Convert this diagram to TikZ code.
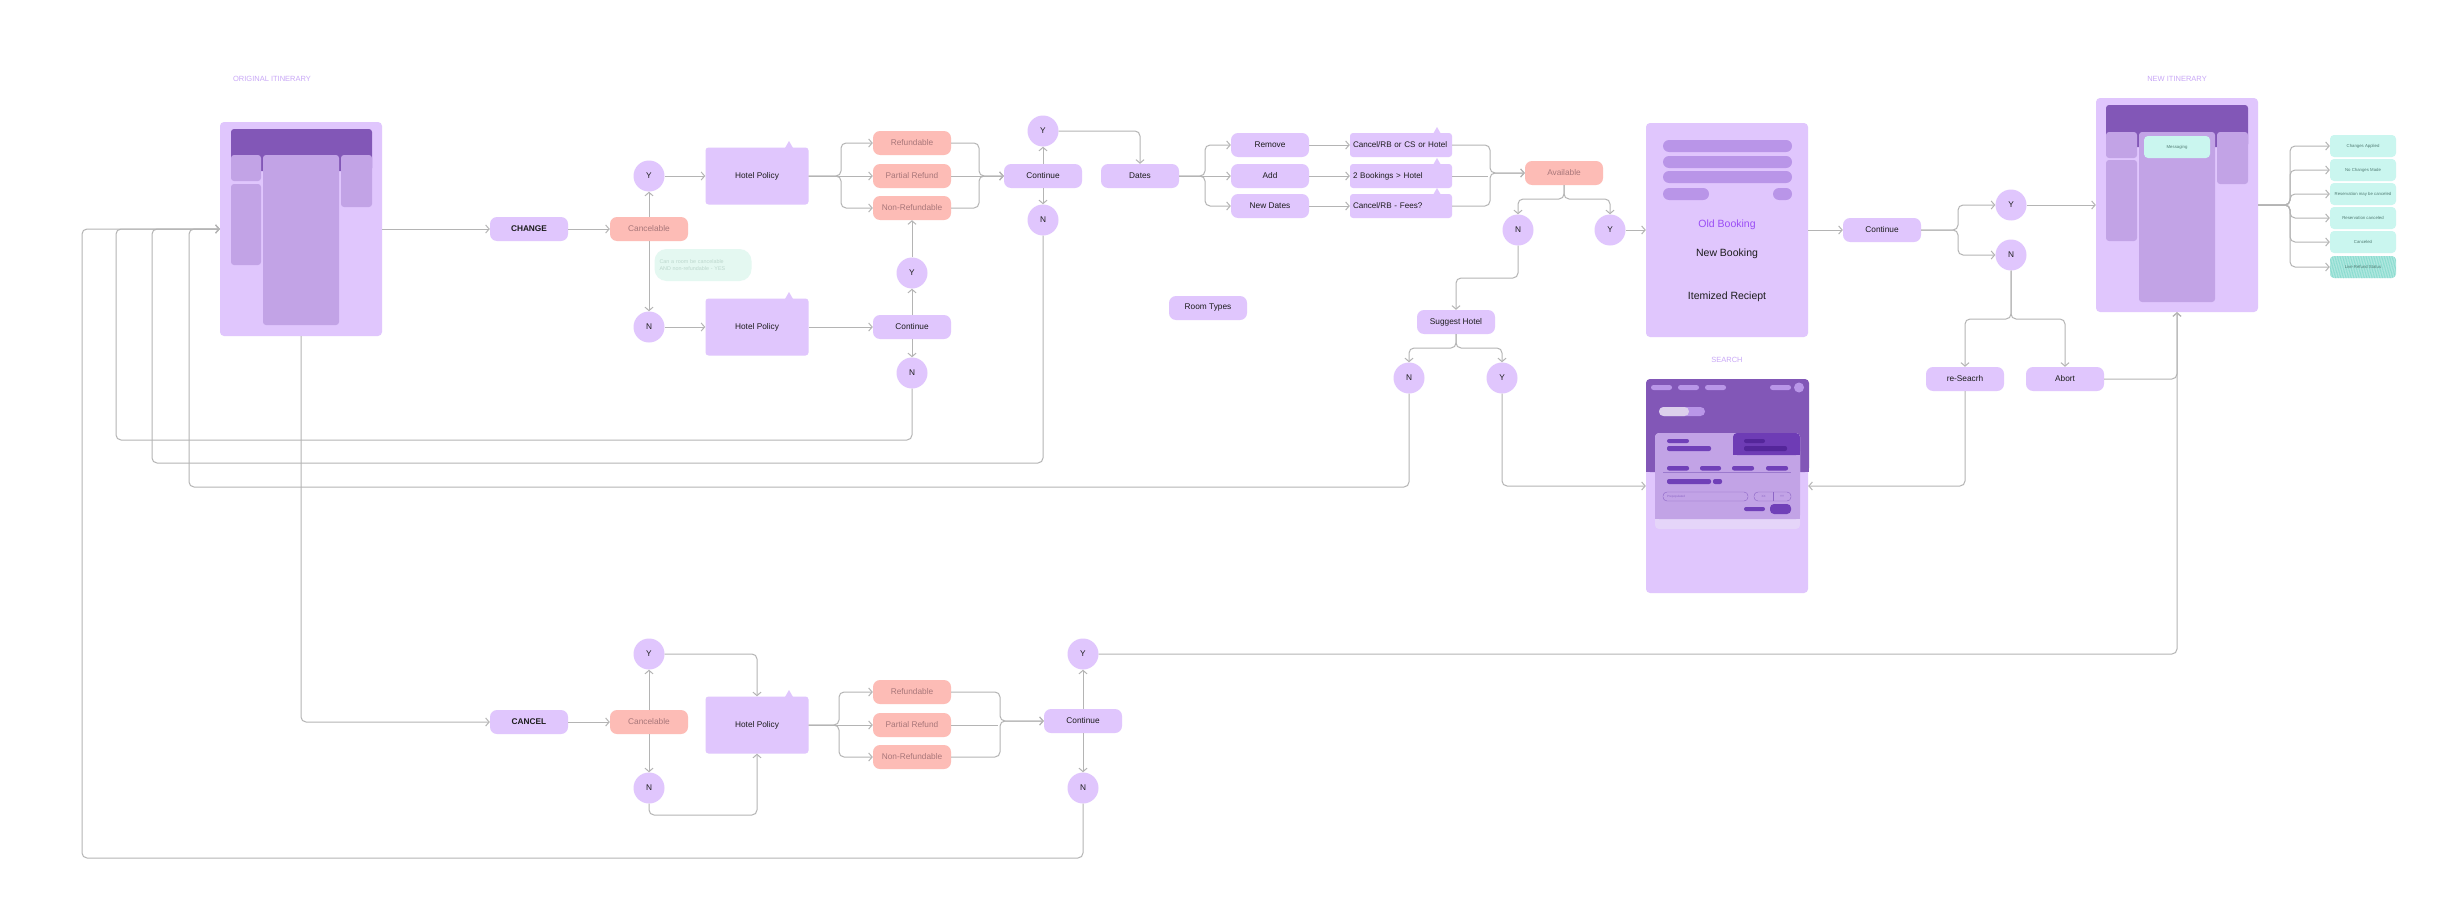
\documentclass[tikz,border=0pt]{standalone}
\usepackage{fontspec}
\setmainfont{Liberation Sans}
\usetikzlibrary{arrows.meta,patterns.meta,calc}
\definecolor{lp}{HTML}{E0C6FD}
\definecolor{mp}{HTML}{C2A3E6}
\definecolor{dp}{HTML}{8257B7}
\definecolor{barc}{HTML}{B995E8}
\definecolor{pinkc}{HTML}{FDBCB6}
\definecolor{pktx}{HTML}{A8777A}
\definecolor{lnc}{HTML}{B4B4B4}
\definecolor{ttlc}{HTML}{C9A8F7}
\definecolor{mint}{HTML}{CAF6EF}
\definecolor{mintdk}{HTML}{7FD9CB}
\definecolor{minttx}{HTML}{4F7A72}
\definecolor{notec}{HTML}{E4F8F1}
\definecolor{notetx}{HTML}{BCD7CD}
\definecolor{txc}{HTML}{1C1C1C}
\definecolor{oldbc}{HTML}{9A4DF5}
\definecolor{cardc}{HTML}{C2A3E6}
\definecolor{tabc}{HTML}{6E3CB5}
\definecolor{tabbar}{HTML}{54269A}
\definecolor{cbar}{HTML}{7040B8}
\definecolor{navc}{HTML}{B996E8}
\definecolor{togl}{HTML}{DCD0EC}
\definecolor{strip}{HTML}{E5D5F9}
\newcommand\nodefont{\fontsize{8.3}{10}\selectfont}
\tikzset{
 cn/.style={draw=lnc, line width=1pt, rounded corners=5pt},
 ar/.style={-{Straight Barb[length=3.5pt,width=8pt]}},
 pn/.style={fill=lp, rounded corners=7pt, minimum width=78pt, minimum height=24pt, inner sep=0pt, text=txc, font=\nodefont},
 pkn/.style={pn, fill=pinkc, text=pktx},
 cr/.style={circle, fill=lp, minimum size=31pt, inner sep=0pt, text=txc, font=\nodefont},
 pol/.style={fill=lp, rounded corners=3pt, minimum width=103pt, minimum height=57pt, inner sep=0pt, text=txc, font=\nodefont},
 bx/.style={fill=lp, rounded corners=3pt, minimum height=24pt, text width=96pt, inner xsep=3pt, inner ysep=0pt, align=left, text=txc, font=\fontsize{8.1}{10}\selectfont},
 panel/.style={fill=lp, rounded corners=4pt, minimum width=162pt, minimum height=214pt, inner sep=0pt},
 ttl/.style={text=ttlc, font=\fontsize{7.5}{9}\selectfont},
 mn/.style={fill=mint, rounded corners=4pt, minimum width=66pt, minimum height=22pt, inner sep=0pt, font=\fontsize{4.3}{5}\selectfont, text=minttx},
}
\begin{document}
\begin{tikzpicture}[x=1pt,y=-1pt]
\useasboundingbox (0,0) rectangle (2463,899);
\fill[white] (0,0) rectangle (2463,899);

% titles
\node[ttl] (t1) at (272,79) {ORIGINAL ITINERARY};
\node[ttl] (t2) at (2177,79) {NEW ITINERARY};
\node[ttl] (t3) at (1727,360) {SEARCH};

% original itinerary panel
\node[panel] (orig) at (301,229) {};
\fill[dp, rounded corners=3pt] (231,129) rectangle (372,171);
\fill[mp, rounded corners=3pt] (231,155) rectangle (261,181);
\fill[mp, rounded corners=3pt] (231,184) rectangle (261,265);
\fill[mp, rounded corners=3pt] (263,155) rectangle (339,325);
\fill[mp, rounded corners=3pt] (341,155) rectangle (372,207);

% new itinerary panel
\node[panel] (newit) at (2177,205) {};
\fill[dp, rounded corners=3pt] (2106,105) rectangle (2248,147);
\fill[mp, rounded corners=3pt] (2106,132) rectangle (2137,158);
\fill[mp, rounded corners=3pt] (2106,160) rectangle (2137,241);
\fill[mp, rounded corners=3pt] (2139,132) rectangle (2215,302);
\fill[mp, rounded corners=3pt] (2217,132) rectangle (2248,184);
\node[mn, minimum width=66pt, minimum height=22pt] (msg) at (2177,147) {Messaging};

% old booking panel
\node[panel] (oldb) at (1727,230) {};
\fill[barc, rounded corners=6pt] (1663,140) rectangle (1792,152);
\fill[barc, rounded corners=6pt] (1663,156) rectangle (1792,168);
\fill[barc, rounded corners=6pt] (1663,171) rectangle (1792,183);
\fill[barc, rounded corners=6pt] (1663,188) rectangle (1709,200);
\fill[barc, rounded corners=6pt] (1773,188) rectangle (1792,200);
\node[text=oldbc, font=\fontsize{10.5}{12}\selectfont] (obt) at (1727,225) {Old Booking};
\node[text=txc, font=\fontsize{10.5}{12}\selectfont] (nbt) at (1727,254) {New Booking};
\node[text=txc, font=\fontsize{10.5}{12}\selectfont] (irt) at (1727,297) {Itemized Reciept};

% search panel
\node[panel] (search) at (1727,486) {};
\fill[dp, rounded corners=4pt] (1646,379) rectangle (1809,472);
\fill[dp] (1646,462) rectangle (1809,472);
\foreach \a/\b in {1651/1672,1678/1699,1705/1726,1770/1791}
  \fill[navc, rounded corners=2.5pt] (\a,385) rectangle (\b,390);
\fill[navc] (1799,387.5) circle (5pt);
\fill[navc, rounded corners=4.5pt] (1659,407) rectangle (1705,416);
\fill[togl, rounded corners=4.5pt] (1659,407) rectangle (1689,416);
\fill[togl] (1680,407) rectangle (1684,416);
\fill[strip, rounded corners=4pt] (1655,433) rectangle (1800,529);
\fill[cardc, rounded corners=4pt] (1655,433) rectangle (1800,519);
\fill[cardc] (1655,512) rectangle (1800,519);
\fill[tabc, rounded corners=4pt] (1733,433) rectangle (1800,455);
\fill[tabc] (1733,440) rectangle (1740,455);
\fill[tabc] (1790,445) rectangle (1800,455);
\fill[cbar, rounded corners=2pt] (1667,439) rectangle (1689,443);
\fill[cbar, rounded corners=2pt] (1667,446) rectangle (1711,451);
\fill[tabbar, rounded corners=2pt] (1744,439) rectangle (1765,443);
\fill[tabbar, rounded corners=2pt] (1744,446) rectangle (1787,451);
\foreach \a/\b in {1667/1689,1700/1721,1732/1754,1766/1788}
  \fill[cbar, rounded corners=2pt] (\a,466) rectangle (\b,470.5);
\draw[cbar!70, line width=0.4pt] (1663,472.5) -- (1791,472.5);
\fill[cbar, rounded corners=2pt] (1667,479) rectangle (1711,484);
\fill[cbar, rounded corners=2pt] (1713,479) rectangle (1722,484);
\draw[cbar!80, line width=0.4pt, rounded corners=4pt] (1663,492) rectangle (1748,501);
\node[anchor=west, text=cbar!80, font=\fontsize{3}{3.5}\selectfont, inner sep=0pt] (pp) at (1667,496.5) {Prepopulated};
\draw[cbar!80, line width=0.4pt, rounded corners=4pt] (1754,492) rectangle (1791,501);
\draw[cbar!80, line width=0.4pt] (1773,492) -- (1773,501);
\node[text=cbar!80, font=\fontsize{3}{3.5}\selectfont, inner sep=0pt] (xx) at (1763.5,496.5) {XX};
\node[text=cbar!80, font=\fontsize{3}{3.5}\selectfont, inner sep=0pt] (yy) at (1782,496.5) {YY};
\fill[cbar, rounded corners=2pt] (1744,507) rectangle (1765,511);
\fill[cbar, rounded corners=4pt] (1770,504) rectangle (1791,514);

% upper flow nodes
\node[pn, font=\nodefont\bfseries] (change) at (529,229) {CHANGE};
\node[pkn] (canc1) at (649,229) {Cancelable};
\node[cr] (y1) at (649,176) {Y};
\node[cr] (n1) at (649,327) {N};
\node[pol] (hp1) at (757,176) {Hotel Policy};
\node[pol] (hp2) at (757,327) {Hotel Policy};
\fill[lp] (785,148) -- (789,141) -- (793,148) -- cycle;
\fill[lp] (785,299) -- (789,292) -- (793,299) -- cycle;
\node[fill=notec, rounded corners=12pt, minimum width=97pt, minimum height=32pt, text width=87pt, inner xsep=5pt, align=left, text=notetx, font=\fontsize{5.4}{7.8}\selectfont] (note) at (703,265) {Can a room be cancelable\\AND non-refundable - YES};
\node[pkn] (rf1) at (912,143) {Refundable};
\node[pkn] (pr1) at (912,176) {Partial Refund};
\node[pkn] (nr1) at (912,208) {Non-Refundable};
\node[pn] (co1) at (1043,176) {Continue};
\node[cr] (y2) at (1043,131) {Y};
\node[cr] (n2) at (1043,220) {N};
\node[pn] (cm) at (912,327) {Continue};
\node[cr] (ym) at (912,273) {Y};
\node[cr] (nm) at (912,373) {N};
\node[pn] (dates) at (1140,176) {Dates};
\node[pn] (rem) at (1270,145) {Remove};
\node[pn] (add) at (1270,176) {Add};
\node[pn] (nd) at (1270,206) {New Dates};
\node[bx] (b1) at (1401,145) {Cancel/RB or CS or Hotel};
\node[bx] (b2) at (1401,176) {2 Bookings > Hotel};
\node[bx] (b3) at (1401,206) {Cancel/RB - Fees?};
\fill[lp] (1433,134) -- (1437,127) -- (1441,134) -- cycle;
\fill[lp] (1433,165) -- (1437,158) -- (1441,165) -- cycle;
\fill[lp] (1433,195) -- (1437,188) -- (1441,195) -- cycle;
\node[pkn] (avail) at (1564,173) {Available};
\node[cr] (n3) at (1518,230) {N};
\node[cr] (y3) at (1610,230) {Y};
\node[pn] (rt) at (1208,308) {Room Types};
\node[pn] (sugg) at (1456,322) {Suggest Hotel};
\node[cr] (n5) at (1409,378) {N};
\node[cr] (y5) at (1502,378) {Y};
\node[pn] (co2) at (1882,230) {Continue};
\node[cr] (y4) at (2011,205) {Y};
\node[cr] (n4) at (2011,255) {N};
\node[pn] (rs) at (1965,379) {re-Seacrh};
\node[pn] (ab) at (2065,379) {Abort};
\node[mn] (m1) at (2363,146) {Changes Applied};
\node[mn] (m2) at (2363,170) {No Changes Made};
\node[mn] (m3) at (2363,194) {Reservation may be canceled};
\node[mn] (m4) at (2363,218) {Reservation canceled};
\node[mn] (m5) at (2363,242) {Canceled};
\node[mn, preaction={fill=mintdk!60}, pattern={Lines[angle=80,distance=1.6pt,line width=0.5pt]}, pattern color=mintdk] (m6) at (2363,267) {Live Refund Status};

% lower flow nodes
\node[pn, font=\nodefont\bfseries] (cancel) at (529,722) {CANCEL};
\node[pkn] (canc2) at (649,722) {Cancelable};
\node[cr] (y7) at (649,654) {Y};
\node[cr] (n7) at (649,788) {N};
\node[pol] (hp3) at (757,725) {Hotel Policy};
\fill[lp] (785,697) -- (789,690) -- (793,697) -- cycle;
\node[pkn] (rf3) at (912,692) {Refundable};
\node[pkn] (pr3) at (912,725) {Partial Refund};
\node[pkn] (nr3) at (912,757) {Non-Refundable};
\node[pn] (co3) at (1083,721) {Continue};
\node[cr] (y8) at (1083,654) {Y};
\node[cr] (n8) at (1083,788) {N};

% connectors upper
\draw[cn,ar] (orig.east) -- (change.west);
\draw[cn,ar] (change.east) -- (canc1.west);
\draw[cn,ar] (canc1.north) -- (y1.south);
\draw[cn,ar] (canc1.south) -- (n1.north);
\draw[cn,ar] (y1.east) -- (hp1.west);
\draw[cn,ar] (n1.east) -- (hp2.west);
\coordinate (j1) at (841,176);
\draw[cn,ar] (hp1.east) -- (j1) |- (rf1.west);
\draw[cn,ar] (hp1.east) -- (pr1.west);
\draw[cn,ar] (hp1.east) -- (j1) |- (nr1.west);
\coordinate (k1) at (979,176);
\draw[cn,ar] (rf1.east) -| (k1) -- (co1.west);
\draw[cn,ar] (pr1.east) -- (co1.west);
\draw[cn,ar] (nr1.east) -| (k1) -- (co1.west);
\draw[cn,ar] (co1.north) -- (y2.south);
\draw[cn,ar] (co1.south) -- (n2.north);
\draw[cn,ar] (y2.east) -| (dates.north);
\draw[cn,ar] (hp2.east) -- (cm.west);
\draw[cn,ar] (cm.north) -- (ym.south);
\draw[cn,ar] (ym.north) -- (nr1.south);
\draw[cn,ar] (cm.south) -- (nm.north);
\coordinate (j2) at (1205,176);
\draw[cn,ar] (dates.east) -- (j2) |- (rem.west);
\draw[cn,ar] (dates.east) -- (add.west);
\draw[cn,ar] (dates.east) -- (j2) |- (nd.west);
\draw[cn,ar] (rem.east) -- (b1.west);
\draw[cn,ar] (add.east) -- (b2.west);
\draw[cn,ar] (nd.east) -- (b3.west);
\coordinate (k2) at (1490,173);
\draw[cn,ar] (b1.east) -| (k2) -- (avail.west);
\draw[cn] (b2.east) -- (1488,176);
\draw[cn,ar] (b3.east) -| (k2) -- (avail.west);
\coordinate (j3) at (1564,199);
\draw[cn,ar] (avail.south) -- (j3) -| (n3.north);
\draw[cn,ar] (avail.south) -- (j3) -| (y3.north);
\draw[cn,ar] (y3.east) -- (oldb.west);
\coordinate (j4) at (1518,278);
\draw[cn,ar] (n3.south) -- (j4) -| (sugg.north);
\coordinate (j5) at (1456,348);
\draw[cn,ar] (sugg.south) -- (j5) -| (n5.north);
\draw[cn,ar] (sugg.south) -- (j5) -| (y5.north);
\draw[cn,ar] (y5.south) |- (search.west);
\draw[cn,ar] (oldb.east) -- (co2.west);
\coordinate (j6) at (1958,230);
\draw[cn,ar] (co2.east) -- (j6) |- (y4.west);
\draw[cn,ar] (co2.east) -- (j6) |- (n4.west);
\draw[cn,ar] (y4.east) -- (newit.west);
\coordinate (j7) at (2011,319);
\draw[cn,ar] (n4.south) -- (j7) -| (rs.north);
\draw[cn,ar] (n4.south) -- (j7) -| (ab.north);
\draw[cn,ar] (rs.south) |- (search.east);
\draw[cn,ar] (ab.east) -| (newit.south);
\draw[cn,ar] (y8.east) -| (newit.south);
\coordinate (j8) at (2290,205);
\foreach \m in {m1,m2,m3,m4,m5,m6}
  \draw[cn,ar] (newit.east) -- (j8) |- (\m.west);

% loops back to original itinerary
\coordinate (c1) at (82,858);
\coordinate (c2) at (116,440);
\coordinate (c3) at (152,463);
\coordinate (c4) at (189,487);
\draw[cn,ar] (n8.south) |- (c1) |- (orig.west);
\draw[cn,ar] (nm.south) |- (c2) |- (orig.west);
\draw[cn,ar] (n2.south) |- (c3) |- (orig.west);
\draw[cn,ar] (n5.south) |- (c4) |- (orig.west);
\draw[cn,ar] (orig.south) |- (cancel.west);

% connectors lower
\draw[cn,ar] (cancel.east) -- (canc2.west);
\draw[cn,ar] (canc2.north) -- (y7.south);
\draw[cn,ar] (canc2.south) -- (n7.north);
\draw[cn,ar] (y7.east) -| (hp3.north);
\coordinate (c7) at (649,815);
\draw[cn,ar] (n7.south) -- (c7) -| (hp3.south);
\coordinate (j9) at (839,725);
\draw[cn,ar] (hp3.east) -- (j9) |- (rf3.west);
\draw[cn,ar] (hp3.east) -- (pr3.west);
\draw[cn,ar] (hp3.east) -- (j9) |- (nr3.west);
\coordinate (k3) at (1000,721);
\draw[cn,ar] (rf3.east) -| (k3) -- (co3.west);
\draw[cn] (pr3.east) -- (998,725);
\draw[cn,ar] (nr3.east) -| (k3) -- (co3.west);
\draw[cn,ar] (co3.north) -- (y8.south);
\draw[cn,ar] (co3.south) -- (n8.north);
\end{tikzpicture}
\end{document}
